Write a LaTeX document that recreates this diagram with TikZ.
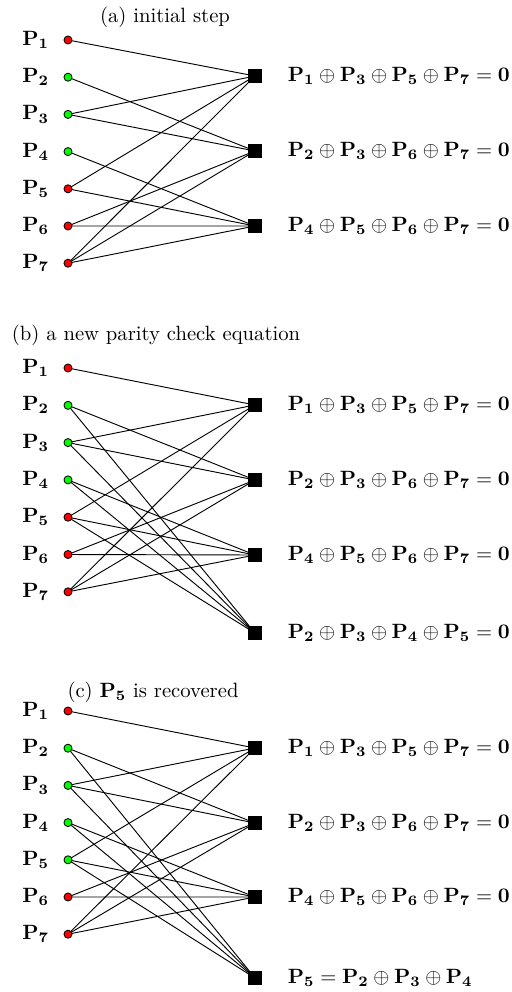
\documentclass[tikz,border=0pt]{standalone}
\usepackage{amsmath}
\usepackage{tikz}
\usetikzlibrary{
  positioning,
  backgrounds
}
\definecolor{LostRed}{HTML}{FF0000}
\definecolor{GotGreen}{HTML}{00FF00}
\tikzset{
  % Lost packet (variable node)
  lost/.style={
    circle, draw=black, fill=LostRed, line width=0.4pt,
    inner sep=0pt, minimum size=3.9pt
  },
  % Received packet (variable node)
  got/.style={
    circle, draw=black, fill=GotGreen, line width=0.4pt,
    inner sep=0pt, minimum size=3.9pt
  },
  % Parity check node
  chk/.style={
    rectangle, draw=black, fill=black,
    inner sep=0pt, minimum size=6pt
  },
  % Packet label
  plbl/.style={label distance=3.5pt},
  % Equation text
  eqn/.style={anchor=west, inner sep=0pt},
  % Connector
  edge/.style={line width=0.45pt, color=black}
}
\begin{document}
\begin{tikzpicture}[x=0.0170cm, y=-0.0170cm]
  \useasboundingbox (0,0) rectangle (511,992);

  % (a) initial step
  \node (titleA) at (165,17) {(a) initial step};
  \foreach \i/\col in {1/lost,2/got,3/got,4/got,5/lost,6/lost,7/lost}
    \node[\col, label={[plbl]left:$\mathbf{P_\i}$}] (a\i) at (68,{40+37.2*(\i-1)}) {};
  \node[chk] (ac1) at (255,76) {};
  \node[chk] (ac2) at (255,151) {};
  \node[chk] (ac3) at (255,226) {};
  \node[eqn, right=12.5pt of ac1] (ae1) {$\mathbf{P_1\oplus P_3\oplus P_5\oplus P_7=0}$};
  \node[eqn, right=12.5pt of ac2] (ae2) {$\mathbf{P_2\oplus P_3\oplus P_6\oplus P_7=0}$};
  \node[eqn, right=12.5pt of ac3] (ae3) {$\mathbf{P_4\oplus P_5\oplus P_6\oplus P_7=0}$};
  \begin{scope}[on background layer]
    \foreach \v/\k in {1/1,3/1,5/1,7/1,2/2,3/2,6/2,7/2,4/3,5/3,6/3,7/3}
      \draw[edge] (a\v.center) -- (ac\k.center);
  \end{scope}

  % (b) a new parity check equation
  \node (titleB) at (156,335) {(b) a new parity check equation};
  \foreach \i/\col in {1/lost,2/got,3/got,4/got,5/lost,6/lost,7/lost}
    \node[\col, label={[plbl]left:$\mathbf{P_\i}$}] (b\i) at (68,{368+37.3*(\i-1)}) {};
  \node[chk] (bc1) at (255,405) {};
  \node[chk] (bc2) at (255,480) {};
  \node[chk] (bc3) at (255,555) {};
  \node[chk] (bc4) at (255,633) {};
  \node[eqn, right=12.5pt of bc1] (be1) {$\mathbf{P_1\oplus P_3\oplus P_5\oplus P_7=0}$};
  \node[eqn, right=12.5pt of bc2] (be2) {$\mathbf{P_2\oplus P_3\oplus P_6\oplus P_7=0}$};
  \node[eqn, right=12.5pt of bc3] (be3) {$\mathbf{P_4\oplus P_5\oplus P_6\oplus P_7=0}$};
  \node[eqn, right=12.5pt of bc4] (be4) {$\mathbf{P_2\oplus P_3\oplus P_4\oplus P_5=0}$};
  \begin{scope}[on background layer]
    \foreach \v/\k in {1/1,3/1,5/1,7/1,2/2,3/2,6/2,7/2,4/3,5/3,6/3,7/3,2/4,3/4,4/4,5/4}
      \draw[edge] (b\v.center) -- (bc\k.center);
  \end{scope}

  % (c) P5 is recovered
  \node (titleC) at (153,692) {(c) $\mathbf{P_5}$ is recovered};
  \foreach \i/\col in {1/lost,2/got,3/got,4/got,5/got,6/lost,7/lost}
    \node[\col, label={[plbl]left:$\mathbf{P_\i}$}] (c\i) at (68,{711+37.2*(\i-1)}) {};
  \node[chk] (cc1) at (255,748) {};
  \node[chk] (cc2) at (255,823) {};
  \node[chk] (cc3) at (255,897) {};
  \node[chk] (cc4) at (255,978) {};
  \node[eqn, right=12.5pt of cc1] (ce1) {$\mathbf{P_1\oplus P_3\oplus P_5\oplus P_7=0}$};
  \node[eqn, right=12.5pt of cc2] (ce2) {$\mathbf{P_2\oplus P_3\oplus P_6\oplus P_7=0}$};
  \node[eqn, right=12.5pt of cc3] (ce3) {$\mathbf{P_4\oplus P_5\oplus P_6\oplus P_7=0}$};
  \node[eqn, right=12.5pt of cc4] (ce4) {$\mathbf{P_5=P_2\oplus P_3\oplus P_4}$};
  \begin{scope}[on background layer]
    \foreach \v/\k in {1/1,3/1,5/1,7/1,2/2,3/2,6/2,7/2,4/3,5/3,6/3,7/3,2/4,3/4,4/4,5/4}
      \draw[edge] (c\v.center) -- (cc\k.center);
  \end{scope}
\end{tikzpicture}
\end{document}
